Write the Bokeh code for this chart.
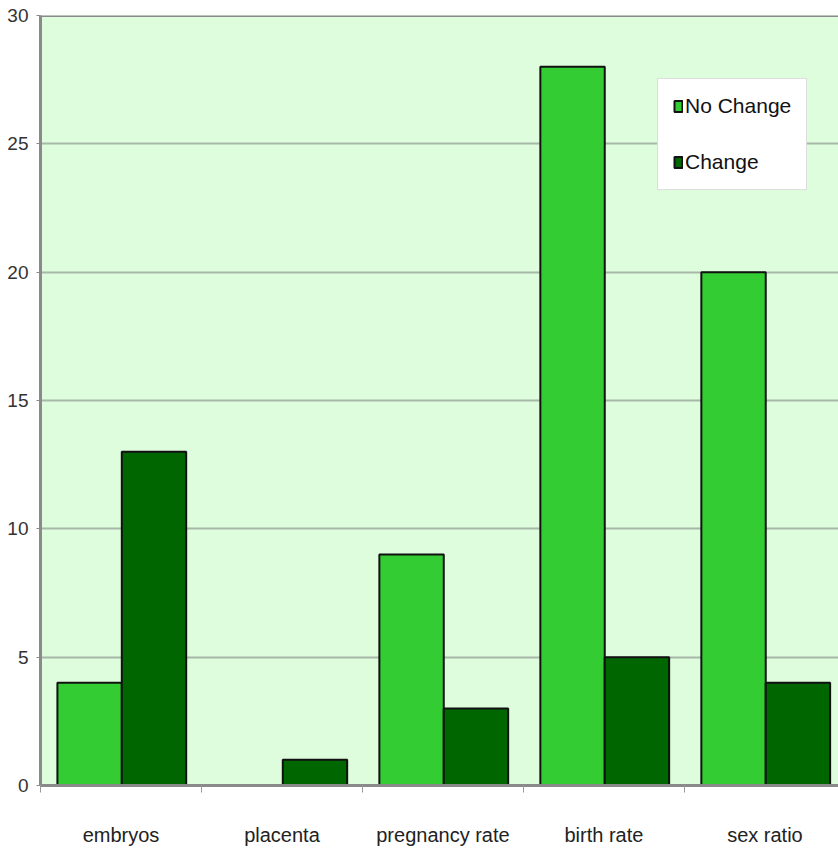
from bokeh.plotting import figure
from bokeh.models import (ColumnDataSource, Range1d, FixedTicker, Span, Legend,
                          LegendItem)
from bokeh.embed import file_html
from bokeh.resources import INLINE

categories = ["embryos", "placenta", "pregnancy rate", "birth rate", "sex ratio"]
no_change = [4, 0, 9, 28, 20]
change = [13, 1, 3, 5, 4]
y_ticks = [0, 5, 10, 15, 20, 25, 30]

FONT = "Liberation Sans"
BG = "#DDFDDD"
LIGHT = "#33CC33"
DARK = "#006600"
BAR_W = 0.4

idx = list(range(len(categories)))
src_nc = ColumnDataSource(dict(x=[i + 0.105 + BAR_W / 2 for i in idx], top=no_change))
src_c = ColumnDataSource(dict(x=[i + 0.505 + BAR_W / 2 for i in idx], top=change))

p = figure(width=838, height=853, output_backend="svg", toolbar_location=None,
           x_range=Range1d(0, 4.957), y_range=Range1d(0, 30),
           min_border_left=40, min_border_right=0, min_border_top=15,
           min_border_bottom=68)
p.background_fill_color = BG
p.border_fill_color = "white"
p.outline_line_color = None

r1 = p.vbar(x="x", top="top", width=BAR_W, bottom=0, source=src_nc,
            fill_color=LIGHT, line_color="#111111", line_width=2)
r2 = p.vbar(x="x", top="top", width=BAR_W, bottom=0, source=src_c,
            fill_color=DARK, line_color="#111111", line_width=2)

# top border of the plotting area
p.add_layout(Span(location=30, dimension="width", line_color="#8a8a8a",
                  line_width=3))

# x axis: labels at category centres, short ticks at the boundaries
p.xaxis.ticker = FixedTicker(ticks=[i + 0.5 for i in idx], minor_ticks=idx)
p.xaxis.major_label_overrides = {i + 0.5: c for i, c in zip(idx, categories)}
p.xaxis.major_tick_line_color = None
p.xaxis.minor_tick_line_color = "#999999"
p.xaxis.minor_tick_in = 0
p.xaxis.minor_tick_out = 7
p.xaxis.axis_line_color = "#8a8a8a"
p.xaxis.axis_line_width = 3
p.xaxis.major_label_standoff = 31
p.xaxis.major_label_text_font = FONT
p.xaxis.major_label_text_font_size = "20px"
p.xaxis.major_label_text_color = "#222222"

p.yaxis.ticker = FixedTicker(ticks=y_ticks)
p.yaxis.axis_line_color = "#8a8a8a"
p.yaxis.axis_line_width = 3
p.yaxis.major_tick_line_color = "#8a8a8a"
p.yaxis.major_tick_in = 0
p.yaxis.major_tick_out = 4
p.yaxis.minor_tick_line_color = None
p.yaxis.major_label_standoff = 8
p.yaxis.major_label_text_font = FONT
p.yaxis.major_label_text_font_size = "19px"
p.yaxis.major_label_text_color = "#333333"

p.xgrid.grid_line_color = None
p.ygrid.grid_line_color = "#A8B8A8"
p.ygrid.grid_line_width = 2

legend = Legend(items=[LegendItem(label="No Change", renderers=[r1]),
                       LegendItem(label="Change", renderers=[r2])],
                location=(617, 595))
legend.background_fill_color = "white"
legend.background_fill_alpha = 1
legend.border_line_color = "#bbbbbb"
legend.border_line_width = 1
legend.label_text_font = FONT
legend.label_text_font_size = "21px"
legend.label_text_color = "#111111"
legend.glyph_width = 10
legend.glyph_height = 14
legend.label_standoff = 2
legend.label_height = 20
legend.spacing = 32
legend.padding = 15
legend.margin = 0
p.add_layout(legend, "center")

open("out.html", "w").write(file_html(p, INLINE))
